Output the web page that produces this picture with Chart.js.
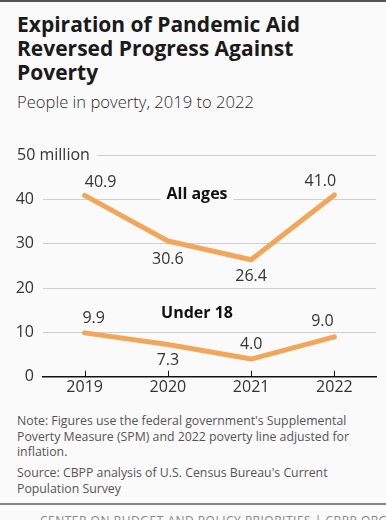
<!DOCTYPE html>
<html lang="en">
<head>
    <meta charset="UTF-8">
    <title>Expiration of Pandemic Aid</title>
    <script src="https://cdn.jsdelivr.net/npm/chart.js@4.4.1/dist/chart.umd.min.js"></script>
    <style>
        html, body {
            margin: 0;
            padding: 0;
            background: #fafafa;
        }
        #main {
            position: relative;
            width: 386px;
            height: 520px;
            overflow: hidden;
            border-top: 2px solid #555;
            box-sizing: border-box;
            font-family: "Open Sans", Lato, sans-serif;
            color: #1a1a1a;
        }
        h1 {
            position: absolute;
            left: 17px;
            top: 10px;
            margin: 0;
            font-size: 21px;
            line-height: 24px;
            font-weight: 700;
            white-space: nowrap;
        }
        .sub {
            position: absolute;
            left: 17px;
            top: 88px;
            font-size: 16.6px;
            color: #2a2a2a;
            font-weight: 300;
            white-space: nowrap;
        }
        #wrap {
            position: absolute;
            left: 0;
            top: 138px;
            width: 386px;
            height: 262px;
        }
        .note {
            position: absolute;
            left: 17px;
            width: 370px;
            white-space: nowrap;
            font-size: 12.3px;
            line-height: 15.5px;
            color: #555;
        }
        .foot {
            position: absolute;
            left: 0;
            top: 501px;
            width: 386px;
            border-top: 2px solid #888;
        }
        .foot span {
            position: absolute;
            left: 40px;
            top: 7px;
            white-space: nowrap;
            font-size: 12px;
            letter-spacing: 0.5px;
            color: #888;
        }
    </style>
</head>
<body>
<div id="main">
    <h1>Expiration of Pandemic Aid<br>Reversed Progress Against<br>Poverty</h1>
    <div class="sub">People in poverty, 2019 to 2022</div>
    <div id="wrap"><canvas id="graph1"></canvas></div>
    <div class="note" style="top:411px">Note: Figures use the federal government's Supplemental<br>Poverty Measure (SPM) and 2022 poverty line adjusted for<br>inflation.</div>
    <div class="note" style="top:463px">Source: CBPP analysis of U.S. Census Bureau's Current<br>Population Survey</div>
    <div class="foot"><span>CENTER ON BUDGET AND POLICY PRIORITIES | CBPP.ORG</span></div>
</div>
<script>
    // data
    const years = ['2019', '2020', '2021', '2022']
    const allAges = [40.9, 30.6, 26.4, 41.0]
    const under18 = [9.9, 7.3, 4.0, 9.0]
    const yTicks = [0, 10, 20, 30, 40, 50]
    const seriesNames = ['All ages', 'Under 18']

    // label offsets in px (dx, dy) from each point
    const offsAll = [[16, -13], [0, 18], [0, 17], [-14, -13]]
    const offsKids = [[9, -14], [0, 16], [0, -15], [-12, -15]]
    // where the series names go, in data units (x index, y value)
    const namePos = [[1.35, 41.2], [1.35, 14.2]]

    const orange = '#f2a65a'
    const fam = '"Open Sans", Lato, sans-serif'

    const labelsPlugin = {
        id: 'labels',
        afterDraw(chart) {
            const ctx = chart.ctx
            const x = chart.scales.x
            const y = chart.scales.y
            ctx.save()
            ctx.textBaseline = 'middle'

            // y tick labels, with "million" on the top one
            ctx.font = '16px ' + fam
            ctx.fillStyle = '#333'
            yTicks.forEach(v => {
                let py = y.getPixelForValue(v)
                if (v === 50) {
                    ctx.fillStyle = '#fafafa'
                    ctx.fillRect(14, py - 8, 83, 16)
                    ctx.fillStyle = '#333'
                    ctx.textAlign = 'left'
                    ctx.fillText('50 million', 17, py)
                } else {
                    ctx.textAlign = 'right'
                    ctx.fillText(String(v), 34, py)
                }
            })

            // value labels
            ctx.textAlign = 'center'
            const drawVals = (arr, offs) => {
                arr.forEach((v, i) => {
                    let px = x.getPixelForValue(i) + offs[i][0]
                    let py = y.getPixelForValue(v) + offs[i][1]
                    ctx.fillText(v.toFixed(1), px, py)
                })
            }
            drawVals(allAges, offsAll)
            drawVals(under18, offsKids)

            // series names
            ctx.font = 'bold 16px ' + fam
            seriesNames.forEach((n, i) => {
                let px = x.getPixelForValue(namePos[i][0])
                let py = y.getPixelForValue(namePos[i][1])
                let w = ctx.measureText(n).width
                ctx.fillStyle = '#fafafa'
                ctx.fillRect(px - w / 2 - 6, py - 9, w + 12, 18)
                ctx.fillStyle = '#111'
                ctx.fillText(n, px, py)
            })

            // small ticks pointing up from the axis
            ctx.strokeStyle = '#111'
            ctx.lineWidth = 1
            years.forEach((yr, i) => {
                let px = Math.round(x.getPixelForValue(i)) + 0.5
                let py = y.getPixelForValue(0)
                ctx.beginPath()
                ctx.moveTo(px, py)
                ctx.lineTo(px, py - 6)
                ctx.stroke()
            })
            ctx.restore()
        }
    }

    let ctx1 = document.getElementById('graph1').getContext('2d')
    let graph1 = new Chart(ctx1, {
        type: 'line',
        data: {
            labels: years,
            datasets: [{
                data: allAges,
                borderColor: orange,
                borderWidth: 5,
                pointRadius: 0,
                borderJoinStyle: 'round',
                borderCapStyle: 'round'
            }, {
                data: under18,
                borderColor: orange,
                borderWidth: 5,
                pointRadius: 0,
                borderJoinStyle: 'round',
                borderCapStyle: 'round'
            }]
        },
        options: {
            responsive: true,
            maintainAspectRatio: false,
            animation: false,
            layout: {
                padding: { left: 43, right: 10, top: 15, bottom: 4 }
            },
            plugins: {
                legend: { display: false },
                tooltip: { enabled: false }
            },
            scales: {
                x: {
                    offset: true,
                    grid: { display: false, drawTicks: false },
                    border: { display: true, color: '#111', width: 1.5 },
                    ticks: {
                        color: '#333',
                        font: { family: fam, size: 16 },
                        padding: 1
                    }
                },
                y: {
                    min: 0,
                    max: 50,
                    ticks: { stepSize: 10, display: false },
                    grid: { color: '#cfcfcf', lineWidth: 1, drawTicks: false },
                    border: { display: false }
                }
            }
        },
        plugins: [labelsPlugin]
    })
</script>
</body>
</html>
